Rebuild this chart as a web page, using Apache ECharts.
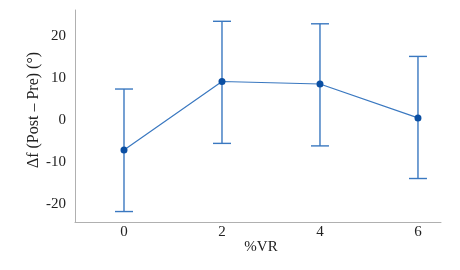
<!DOCTYPE html>
<html>
<head>
<meta charset="utf-8">
<script src="https://cdn.jsdelivr.net/npm/echarts@6/dist/echarts.min.js"></script>
<style>
  html, body { margin: 0; padding: 0; background: #fff; }
  #chart { width: 460px; height: 270px; }
</style>
</head>
<body>
<div id="chart"></div>
<script>
// values
var vrLevels = [0, 2, 4, 6];
var meanDelta = [-7.2, 9.2, 8.6, 0.5];
var upperBar = [7.4, 23.6, 23.0, 15.2];
var lowerBar = [-21.9, -5.6, -6.2, -14.0];
var yTicks = [-20, -10, 0, 10, 20];
var xTicks = [0, 2, 4, 6];

var chart = echarts.init(document.getElementById("chart"));

var points = vrLevels.map(function (x, i) { return [x, meanDelta[i]]; });
var bars = vrLevels.map(function (x, i) { return [x, lowerBar[i], upperBar[i]]; });

var font = "Liberation Serif";

var option = {
  animation: false,
  grid: { left: 75, right: 19, top: 10, bottom: 48 },
  graphic: [
    {
      type: "text",
      x: 34,
      y: 110,
      rotation: Math.PI / 2,
      style: {
        text: "\u0394f (Post \u2013 Pre) (\u00b0)",
        fill: "#222",
        font: "16px " + font,
        align: "center",
        verticalAlign: "middle"
      }
    },
    {
      type: "text",
      x: 261,
      y: 247,
      style: {
        text: "%VR",
        fill: "#222",
        font: "15px " + font,
        align: "center",
        verticalAlign: "middle"
      }
    }
  ],
  xAxis: {
    type: "value",
    min: -1,
    max: 6.47,
    axisLine: { show: true, onZero: false, lineStyle: { color: "#b0b0b0", width: 1 } },
    axisTick: { show: false },
    splitLine: { show: false },
    axisLabel: {
      customValues: xTicks,
      color: "#222",
      fontFamily: font,
      fontSize: 15,
      margin: 3
    }
  },
  yAxis: {
    type: "value",
    min: -24.4,
    max: 26.3,
    axisLine: { show: true, onZero: false, lineStyle: { color: "#b0b0b0", width: 1 } },
    axisTick: { show: false },
    splitLine: { show: false },
    axisLabel: {
      customValues: yTicks,
      color: "#222",
      fontFamily: font,
      fontSize: 15,
      margin: 9
    }
  },
  series: [
    {
      type: "custom",
      data: bars,
      z: 2,
      renderItem: function (params, api) {
        var x = api.value(0);
        var lo = api.coord([x, api.value(1)]);
        var hi = api.coord([x, api.value(2)]);
        var w = 9;
        var style = { stroke: "#3a78c0", lineWidth: 1.4 };
        return {
          type: "group",
          children: [
            { type: "line", shape: { x1: lo[0], y1: lo[1], x2: hi[0], y2: hi[1] }, style: style },
            { type: "line", shape: { x1: hi[0] - w, y1: hi[1], x2: hi[0] + w, y2: hi[1] }, style: style },
            { type: "line", shape: { x1: lo[0] - w, y1: lo[1], x2: lo[0] + w, y2: lo[1] }, style: style }
          ]
        };
      }
    },
    {
      type: "line",
      data: points,
      z: 3,
      symbol: "circle",
      symbolSize: 7,
      lineStyle: { color: "#3a78c0", width: 1.2 },
      itemStyle: { color: "#0b4fa3" }
    }
  ]
};

chart.setOption(option);
</script>
</body>
</html>
